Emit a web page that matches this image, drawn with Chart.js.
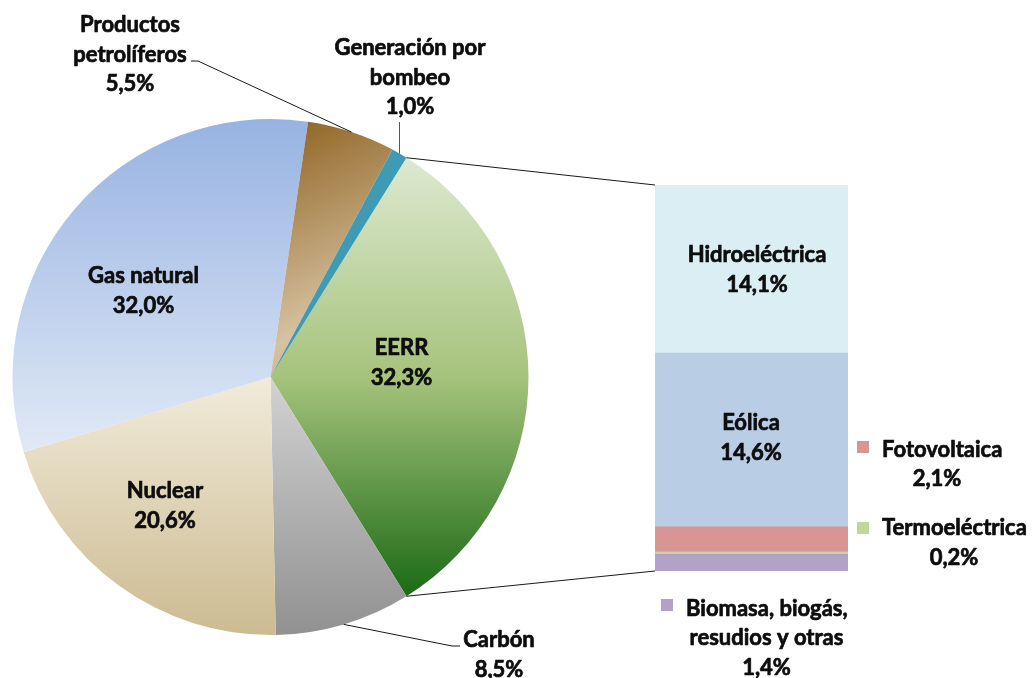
<!DOCTYPE html>
<html><head><meta charset="utf-8">
<script src="https://cdn.jsdelivr.net/npm/chart.js@4.4.1/dist/chart.umd.min.js"></script>
<style>
html,body{margin:0;padding:0;background:#fff;}
#wrap{position:relative;width:1034px;height:678px;overflow:hidden;}
#wrap canvas{position:absolute;left:0;top:0;}
</style></head><body>
<div id="wrap"><canvas id="pie" width="1034" height="678"></canvas><canvas id="bar" width="1034" height="678"></canvas></div>
<script>
// ---- data ----
const pieLabels = ['EERR', 'Carbón', 'Nuclear', 'Gas natural', 'Productos petrolíferos', 'Generación por bombeo'];
const pieValues = [32.3, 8.5, 20.6, 32.0, 5.5, 1.0];
const barLabels = ['Biomasa, biogás, resudios y otras', 'Termoeléctrica', 'Fotovoltaica', 'Eólica', 'Hidroeléctrica'];
const barValues = [1.4, 0.2, 2.1, 14.6, 14.1];

// ---- styles ----
const pieGrad = [
  {dir: 'v', stops: [[0, '#dde9d0'], [0.5, '#a6c37c'], [1, '#1b6a15']]},
  {dir: 'v', stops: [[0, '#d2d2d2'], [1, '#919191']]},
  {dir: 'v', stops: [[0, '#f1ebd9'], [1, '#ccbb92']]},
  {dir: 'v', stops: [[0, '#97b3e2'], [1, '#e1e9f6']]},
  {dir: 'd', stops: [[0, '#8e6120'], [0.72, '#d6c2a1'], [1, '#c5a77c']]},
  {dir: 'v', stops: [[0, '#3f9bb4'], [1, '#3f9bb4']]}
];
const barColors = ['#b3a2c7', '#c3d69b', '#d99594', '#b9cde5', '#dbeef4'];
const FONT = 'bold 22px Lato';
const TXT = '#0d0d0d';
const LH = 29.5;

// label layout
const pieLabelLayout = [
  {x: 401.5, y: 355, lines: ['EERR']},
  {x: 499, y: 647, lines: ['Carbón']},
  {x: 165, y: 498, lines: ['Nuclear']},
  {x: 143.5, y: 283, lines: ['Gas natural']},
  {x: 130, y: 32, lines: ['Productos', 'petrolíferos']},
  {x: 410, y: 55, lines: ['Generación por', 'bombeo']}
];
// leader lines: label-side points (pie point is computed from the arc)
const leaders = {
  1: [[452, 646], [460, 646]],
  4: [[198, 61], [191, 61]],
  5: [[null, 122]]
};
const barInside = {3: {x: 751, y: 430}, 4: {x: 757, y: 262}};
const barLegend = {
  2: {sq: [857, 441], tx: 882, y: 456.5, px: 937, lines: ['Fotovoltaica']},
  1: {sq: [857, 522], tx: 882, y: 535, px: 954, lines: ['Termoeléctrica']},
  0: {sq: [661, 599], tx: 686, y: 615.5, px: 766.5, lines: ['Biomasa, biogás,', 'resudios y otras']}
};

const fmt = v => v.toFixed(1).replace('.', ',') + '%';
const pieTotal = pieValues.reduce((a, b) => a + b, 0);
const barTotal = barValues.reduce((a, b) => a + b, 0);
const rotationDeg = 90 - pieValues[0] / pieTotal * 180;

function sliceBox(cx, cy, r, a0, a1) {
  const pts = [[cx, cy], [cx + r * Math.cos(a0), cy + r * Math.sin(a0)], [cx + r * Math.cos(a1), cy + r * Math.sin(a1)]];
  for (let k = Math.ceil(a0 / (Math.PI / 2)); k * Math.PI / 2 <= a1; k++) {
    const a = k * Math.PI / 2;
    pts.push([cx + r * Math.cos(a), cy + r * Math.sin(a)]);
  }
  const xs = pts.map(p => p[0]), ys = pts.map(p => p[1]);
  return {x0: Math.min(...xs), x1: Math.max(...xs), y0: Math.min(...ys), y1: Math.max(...ys)};
}

function pieColor(ctx) {
  const i = ctx.dataIndex;
  const spec = pieGrad[i];
  const chart = ctx.chart;
  const area = chart.chartArea;
  if (!area) return spec.stops[0][1];
  const cx = (area.left + area.right) / 2, cy = (area.top + area.bottom) / 2;
  const r = Math.min(area.width, area.height) / 2;
  let a0 = (rotationDeg - 90) * Math.PI / 180;
  for (let j = 0; j < i; j++) a0 += 2 * Math.PI * pieValues[j] / pieTotal;
  const a1 = a0 + 2 * Math.PI * pieValues[i] / pieTotal;
  const b = sliceBox(cx, cy, r, a0, a1);
  const g = spec.dir === 'v'
    ? chart.ctx.createLinearGradient(0, b.y0, 0, b.y1)
    : chart.ctx.createLinearGradient(b.x0, b.y0, b.x1, b.y1);
  spec.stops.forEach(s => g.addColorStop(s[0], s[1]));
  return g;
}

function txt(c, t, x, y) {
  c.strokeText(t, x, y);
  c.fillText(t, x, y);
}

function start() {
  const pieChart = new Chart(document.getElementById('pie'), {
    type: 'pie',
    data: {labels: pieLabels, datasets: [{data: pieValues, backgroundColor: pieColor, borderWidth: 0}]},
    options: {
      responsive: false, animation: false, rotation: rotationDeg,
      layout: {padding: {left: 12.5, right: 505.5, top: 119, bottom: 43}},
      plugins: {legend: {display: false}, tooltip: {enabled: false}}
    }
  });

  const overlay = {
    id: 'overlay',
    afterDraw(chart) {
      const c = chart.ctx;
      const pm = pieChart.getDatasetMeta(0);
      c.save();
      // connectors
      const eerr = pm.data[0];
      const topSeg = chart.getDatasetMeta(barValues.length - 1).data[0];
      const botSeg = chart.getDatasetMeta(0).data[0];
      const barLeft = topSeg.x - topSeg.width / 2;
      c.strokeStyle = '#1a1a1a'; c.lineWidth = 1;
      c.beginPath();
      c.moveTo(eerr.x + eerr.outerRadius * Math.cos(eerr.startAngle), eerr.y + eerr.outerRadius * Math.sin(eerr.startAngle));
      c.lineTo(barLeft, topSeg.y);
      c.moveTo(eerr.x + eerr.outerRadius * Math.cos(eerr.endAngle), eerr.y + eerr.outerRadius * Math.sin(eerr.endAngle));
      c.lineTo(barLeft, botSeg.base);
      c.stroke();
      // leader lines
      Object.keys(leaders).forEach(k => {
        const a = pm.data[k];
        const mid = (a.startAngle + a.endAngle) / 2;
        const px = a.x + a.outerRadius * Math.cos(mid), py = a.y + a.outerRadius * Math.sin(mid);
        c.strokeStyle = (k === '5') ? '#595959' : '#1a1a1a';
        c.beginPath(); c.moveTo(px, py);
        leaders[k].forEach(p => c.lineTo(p[0] === null ? px : p[0], p[1]));
        c.stroke();
      });
      // text
      c.font = FONT; c.fillStyle = TXT; c.strokeStyle = TXT; c.lineWidth = 0.7; c.lineJoin = 'round';
      c.textBaseline = 'alphabetic';
      c.textAlign = 'center';
      pieLabelLayout.forEach((L, i) => {
        const lines = L.lines.concat([fmt(pieValues[i])]);
        lines.forEach((t, j) => txt(c, t, L.x, L.y + j * LH));
      });
      Object.keys(barInside).forEach(k => {
        const L = barInside[k];
        txt(c, barLabels[k], L.x, L.y);
        txt(c, fmt(barValues[k]), L.x, L.y + LH);
      });
      Object.keys(barLegend).forEach(k => {
        const L = barLegend[k];
        c.fillStyle = barColors[k];
        c.fillRect(L.sq[0], L.sq[1], 12, 12);
        c.fillStyle = TXT;
        c.textAlign = 'left';
        txt(c, L.lines[0], L.tx, L.y);
        c.textAlign = 'center';
        for (let j = 1; j < L.lines.length; j++) txt(c, L.lines[j], L.px, L.y + j * LH);
        txt(c, fmt(barValues[k]), L.px, L.y + L.lines.length * LH);
      });
      c.restore();
    }
  };

  new Chart(document.getElementById('bar'), {
    type: 'bar',
    data: {
      labels: ['EERR'],
      datasets: barValues.map((v, i) => ({label: barLabels[i], data: [v], backgroundColor: barColors[i], borderWidth: 0, barPercentage: 1, categoryPercentage: 1}))
    },
    options: {
      responsive: false, animation: false,
      layout: {padding: {left: 655, right: 186, top: 185, bottom: 107}},
      scales: {
        x: {display: false, stacked: true},
        y: {display: false, stacked: true, min: 0, max: barTotal}
      },
      plugins: {legend: {display: false}, tooltip: {enabled: false}}
    },
    plugins: [overlay]
  });
}

if (document.fonts && document.fonts.load) {
  document.fonts.load(FONT).then(start, start);
} else { start(); }
</script>
</body></html>
